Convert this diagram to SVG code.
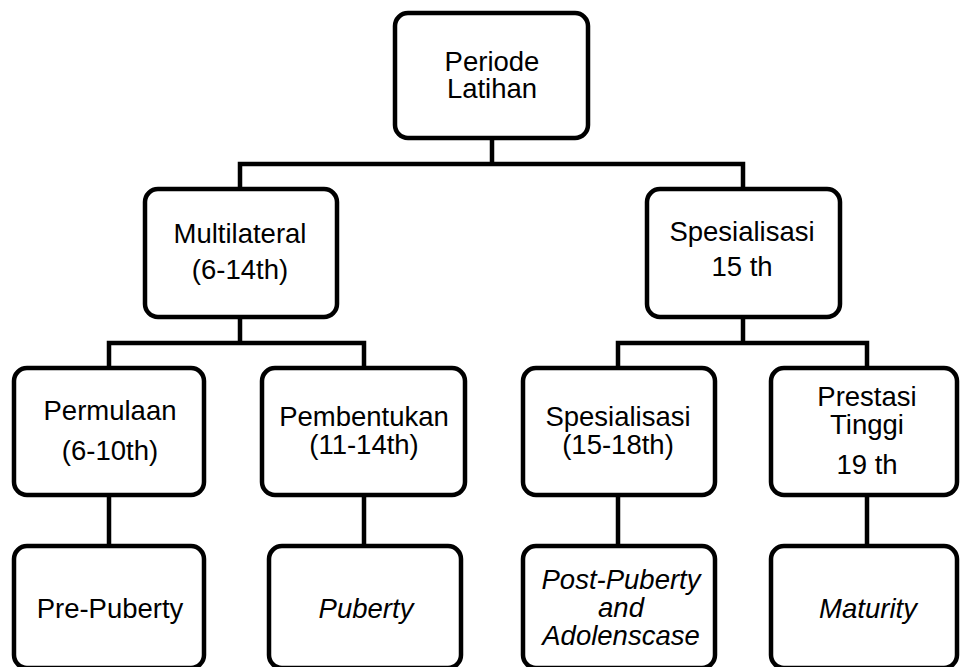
<svg xmlns="http://www.w3.org/2000/svg" width="960" height="667" viewBox="0 0 960 667">
<style>
.box{fill:#fff;stroke:#000;stroke-width:4.5}
.ln{fill:none;stroke:#000;stroke-width:4.5;stroke-linejoin:miter;stroke-linecap:butt}
text{font-family:"Liberation Sans",Arial,sans-serif;font-size:27.5px;fill:#000;text-anchor:middle}
.it{font-style:italic}
</style>
<rect width="960" height="667" fill="#fff"/>
<g id="connectors">
<path class="ln" d="M492,138V164M240,189V164H743V189"/>
<path class="ln" d="M240,317V343M109,368V343H364V368"/>
<path class="ln" d="M743,317V343M618,368V343H867V368"/>
<path class="ln" d="M109,495V546M364,495V546M618,495V546M867,495V546"/>
</g>
<g id="periode">
<rect class="box" x="395" y="13" width="193" height="125" rx="13"/>
<text x="492" y="71">Periode</text>
<text x="492" y="98">Latihan</text>
</g>
<g id="multilateral">
<rect class="box" x="145" y="189" width="192" height="128" rx="13"/>
<text x="240" y="243">Multilateral</text>
<text x="240" y="279">(6-14th)</text>
</g>
<g id="spesialisasi15">
<rect class="box" x="647" y="189" width="193" height="128" rx="13"/>
<text x="742" y="241">Spesialisasi</text>
<text x="742" y="276">15 th</text>
</g>
<g id="permulaan">
<rect class="box" x="14" y="368" width="190" height="127" rx="13"/>
<text x="110" y="420">Permulaan</text>
<text x="110" y="460">(6-10th)</text>
</g>
<g id="pembentukan">
<rect class="box" x="262" y="368" width="203" height="127" rx="13"/>
<text x="364" y="426">Pembentukan</text>
<text x="364" y="454">(11-14th)</text>
</g>
<g id="spesialisasi1518">
<rect class="box" x="523" y="368" width="192" height="127" rx="13"/>
<text x="618" y="426">Spesialisasi</text>
<text x="618" y="454">(15-18th)</text>
</g>
<g id="prestasi">
<rect class="box" x="771" y="368" width="186" height="127" rx="13"/>
<text x="867" y="406">Prestasi</text>
<text x="867" y="434">Tinggi</text>
<text x="867" y="474">19 th</text>
</g>
<g id="prepuberty">
<rect class="box" x="14" y="546" width="190" height="122" rx="13"/>
<text x="110" y="618">Pre-Puberty</text>
</g>
<g id="puberty">
<rect class="box" x="269" y="546" width="192" height="122" rx="13"/>
<text class="it" x="366" y="618">Puberty</text>
</g>
<g id="postpuberty">
<rect class="box" x="523" y="546" width="192" height="122" rx="13"/>
<text class="it" x="621" y="589">Post-Puberty</text>
<text class="it" x="621" y="617">and</text>
<text class="it" x="621" y="645">Adolenscase</text>
</g>
<g id="maturity">
<rect class="box" x="771" y="546" width="186" height="122" rx="13"/>
<text class="it" x="868" y="618">Maturity</text>
</g>
</svg>
